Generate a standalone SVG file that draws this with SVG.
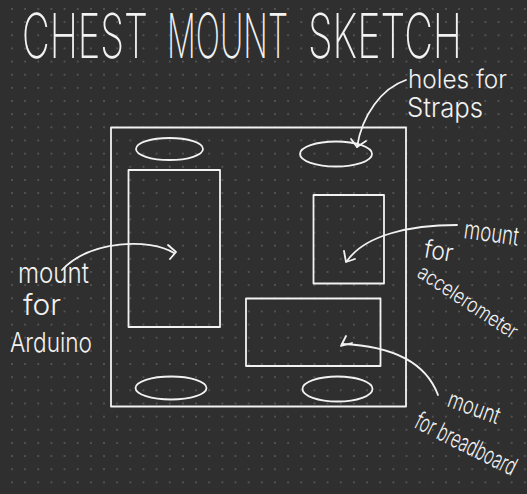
<svg xmlns="http://www.w3.org/2000/svg" width="527" height="494" viewBox="0 0 527 494">
<defs>
<pattern id="dots" patternUnits="userSpaceOnUse" x="5.4" y="2.4" width="13.15" height="13.15">
<circle cx="6.575" cy="6.575" r="0.85" fill="#646464"/>
</pattern>
<style>
.s{fill:none;stroke:#f2f2f2;stroke-width:1.8;stroke-linecap:round;stroke-linejoin:round}
.t{fill:#f2f2f2;font-family:Inter,"DejaVu Sans","Liberation Sans",sans-serif;font-weight:300}
.h{font-weight:200}
</style>
</defs>
<rect width="527" height="494" fill="#2f2f2f"/>
<rect width="527" height="494" fill="url(#dots)"/>

<g id="title">
<text class="t h" x="22" y="58" font-size="62" textLength="126" lengthAdjust="spacingAndGlyphs">CHEST</text>
<text class="t h" x="167" y="58" font-size="62" textLength="121" lengthAdjust="spacingAndGlyphs">MOUNT</text>
<text class="t h" x="308" y="58" font-size="62" textLength="154" lengthAdjust="spacingAndGlyphs">SKETCH</text>
</g>

<g id="board"><rect class="s" x="111" y="127.5" width="295" height="279"/></g>
<g id="hole-top-left"><ellipse class="s" cx="169.5" cy="149" rx="33.5" ry="11"/></g>
<g id="hole-top-right"><ellipse class="s" cx="336" cy="154" rx="36" ry="12.5"/></g>
<g id="hole-bottom-left"><ellipse class="s" cx="171" cy="388" rx="35.5" ry="11.5"/></g>
<g id="hole-bottom-right"><ellipse class="s" cx="337.5" cy="389" rx="35" ry="12.5"/></g>
<g id="arduino-mount"><rect class="s" x="128.5" y="170" width="91.5" height="157"/></g>
<g id="accel-mount"><rect class="s" x="313.5" y="195" width="70.5" height="88.5"/></g>
<g id="breadboard-mount"><rect class="s" x="246" y="298.5" width="134.5" height="67.5"/></g>

<g id="label-straps">
<text class="t" x="408" y="88" font-size="25" textLength="99" lengthAdjust="spacingAndGlyphs">holes for</text>
<text class="t" x="407" y="117" font-size="27" textLength="76" lengthAdjust="spacingAndGlyphs">Straps</text>
</g>
<g id="label-arduino">
<text class="t" x="18" y="283" font-size="28" textLength="71" lengthAdjust="spacingAndGlyphs">mount</text>
<text class="t" x="23" y="315" font-size="28" textLength="38" lengthAdjust="spacingAndGlyphs">for</text>
<text class="t" x="10" y="352" font-size="27" textLength="82" lengthAdjust="spacingAndGlyphs">Arduino</text>
</g>
<g id="label-accel">
<text class="t" x="463" y="238" font-size="26" textLength="55" lengthAdjust="spacingAndGlyphs" transform="rotate(8 463 238)">mount</text>
<text class="t" x="423" y="257" font-size="25" textLength="29" lengthAdjust="spacingAndGlyphs" transform="rotate(10 423 257)">for</text>
<text class="t" x="416" y="276" font-size="21" textLength="115" lengthAdjust="spacingAndGlyphs" transform="rotate(33.5 416 276)">accelerometer</text>
</g>
<g id="label-breadboard">
<text class="t" x="446" y="406" font-size="24" textLength="54" lengthAdjust="spacingAndGlyphs" transform="rotate(20 446 406)">mount</text>
<text class="t" x="413" y="427" font-size="25" textLength="110" lengthAdjust="spacingAndGlyphs" transform="rotate(26.5 413 427)">for breadboard</text>
</g>

<g id="connectors">
<path class="s" d="M406,80 C382,88 362,115 357,147"/>
<path class="s" d="M351,139 L357,147 L366,141"/>
<path class="s" d="M62,270 C90,240 150,238 174,253"/>
<path class="s" d="M168,245 L176,252 L170,259"/>
<path class="s" d="M457,225 C410,225 365,235 347,261"/>
<path class="s" d="M344,251 L346,262 L355,259"/>
<path class="s" d="M438,395 C425,360 390,346 342,344"/>
<path class="s" d="M346,336 L341,346 L352,343"/>
</g>
</svg>
